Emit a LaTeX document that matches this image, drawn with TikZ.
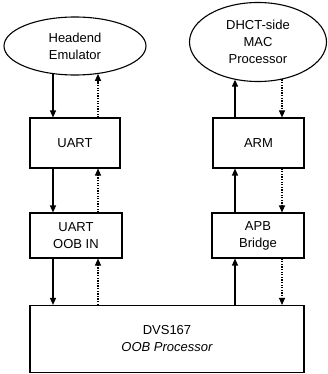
\documentclass[tikz,border=0pt]{standalone}
\usepackage{fontspec}
\setmainfont{Liberation Sans}
\usetikzlibrary{arrows.meta,shapes.geometric}
\begin{document}
\begin{tikzpicture}[x=1pt,y=-1pt,
  txt/.style={align=center,font=\fontsize{13}{17}\selectfont},
  box/.style={draw,line width=1.1pt,inner sep=0pt,txt},
  ell/.style={draw,ellipse,line width=1.1pt,inner sep=0pt,txt},
  solidarr/.style={line width=1.2pt,-{Triangle[length=7pt,width=6pt]}},
  dotarr/.style={line width=1.1pt,dash pattern=on 1.3pt off 1.3pt,-{Triangle[length=7pt,width=6pt]}}]
\useasboundingbox (0,0) rectangle (328,374);
% nodes
\node[ell,minimum width=142pt,minimum height=58pt] (he) at (75,46) {Headend\\Emulator};
\node[ell,minimum width=137pt,minimum height=79pt] (mac) at (258,42) {DHCT-side\\MAC\\Processor};
\node[box,minimum width=90pt,minimum height=50pt] (uart) at (75,143) {UART};
\node[box,minimum width=91pt,minimum height=50pt] (arm) at (258.5,143) {ARM};
\node[box,minimum width=92pt,minimum height=45pt] (oob) at (76,235.5) {UART\\OOB IN};
\node[box,minimum width=92pt,minimum height=45pt] (apb) at (258,235.5) {APB\\Bridge};
\node[box,minimum width=274pt,minimum height=67pt] (dvs) at (167,339) {DVS167\\\itshape OOB Processor};
% column coordinates
\coordinate (c1) at (53,0);
\coordinate (c2) at (98,0);
\coordinate (c3) at (235,0);
\coordinate (c4) at (282,0);
% left column
\draw[solidarr] ([yshift=1.6pt]he.south -| c1) -- (uart.north -| c1);
\draw[dotarr] (uart.north -| c2) -- ([yshift=1.7pt]he.south -| c2);
\draw[solidarr] (uart.south -| c1) -- (oob.north -| c1);
\draw[dotarr] (oob.north -| c2) -- (uart.south -| c2);
\draw[solidarr] (oob.south -| c1) -- (dvs.north -| c1);
\draw[dotarr] (dvs.north -| c2) -- (oob.south -| c2);
% right column
\draw[solidarr] (arm.north -| c3) -- ([yshift=2.4pt]mac.south -| c3);
\draw[dotarr] ([yshift=2.6pt]mac.south -| c4) -- (arm.north -| c4);
\draw[solidarr] (apb.north -| c3) -- (arm.south -| c3);
\draw[dotarr] (arm.south -| c4) -- (apb.north -| c4);
\draw[solidarr] (dvs.north -| c3) -- (apb.south -| c3);
\draw[dotarr] (apb.south -| c4) -- (dvs.north -| c4);
\end{tikzpicture}
\end{document}
